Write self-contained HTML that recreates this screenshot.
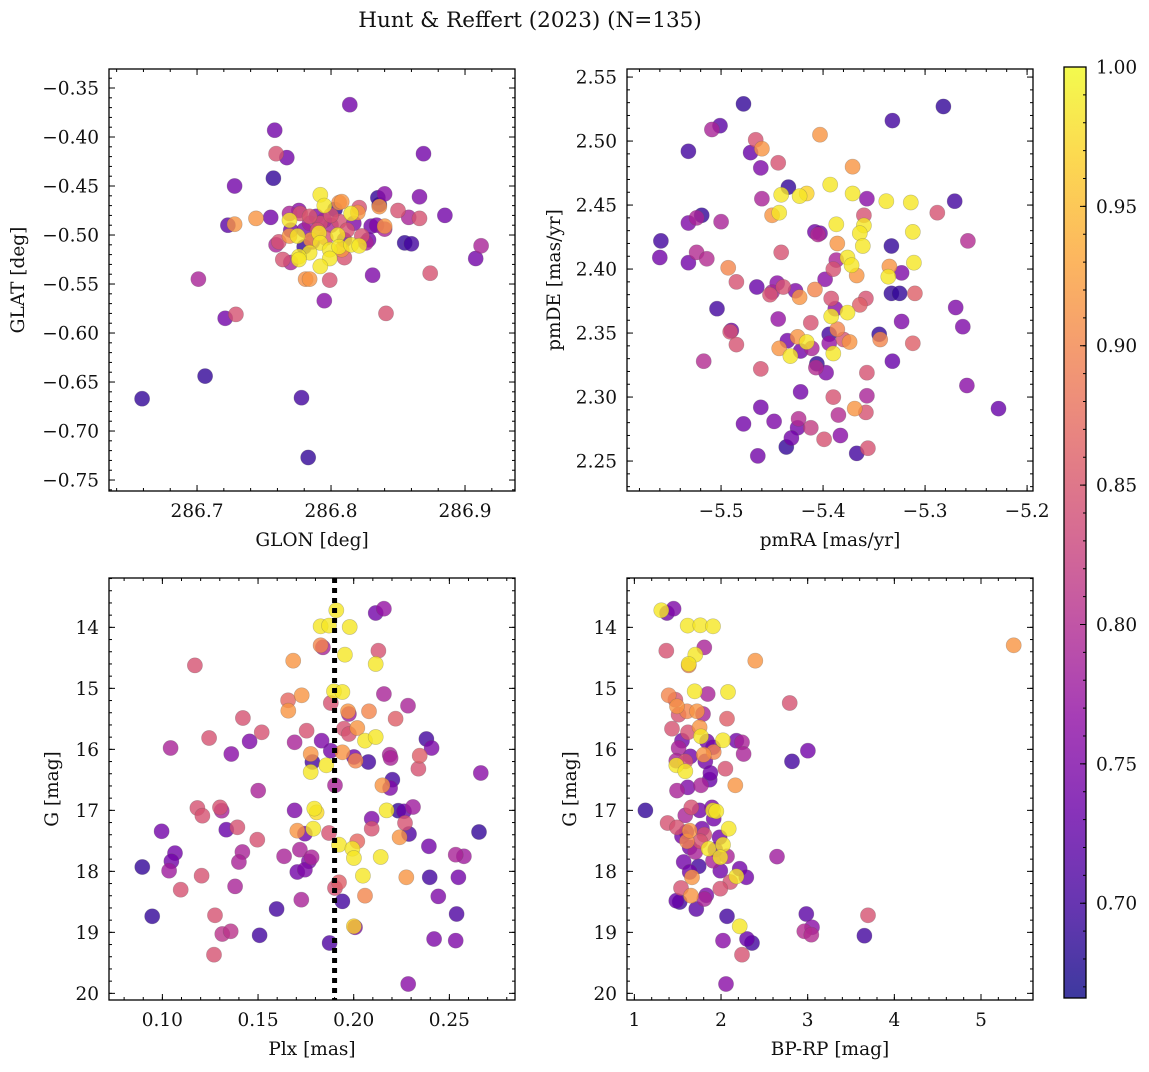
<!DOCTYPE html>
<html><head><meta charset="utf-8">
<style>
html,body{margin:0;padding:0;background:#fff;}
svg text{font-family:"DejaVu Serif","Liberation Serif",serif;fill:#111;}
</style></head>
<body>
<svg id="fig" width="1149" height="1067" viewBox="0 0 1149 1067" xmlns="http://www.w3.org/2000/svg">
<text x="530" y="27" font-size="21.5" text-anchor="middle">Hunt &amp; Reffert (2023) (N=135)</text>
</svg>
<script>
// ---- data: [x, y, membership probability] ----
const posData = [
[286.814,-0.367,0.74],[286.758,-0.393,0.74],[286.759,-0.417,0.845],[286.767,-0.421,0.74],[286.757,-0.442,0.69],
[286.728,-0.450,0.74],[286.869,-0.417,0.74],[286.835,-0.462,0.69],[286.840,-0.458,0.76],[286.866,-0.461,0.75],
[286.885,-0.480,0.74],[286.850,-0.475,0.845],[286.858,-0.482,0.79],[286.866,-0.483,0.845],[286.755,-0.482,0.74],
[286.744,-0.483,0.915],[286.723,-0.490,0.72],[286.728,-0.489,0.915],[286.912,-0.511,0.79],[286.908,-0.524,0.74],
[286.855,-0.508,0.69],[286.860,-0.509,0.70],[286.831,-0.541,0.75],[286.874,-0.539,0.845],[286.701,-0.545,0.79],
[286.784,-0.545,0.915],[286.781,-0.545,0.91],[286.799,-0.546,0.845],[286.795,-0.567,0.76],[286.721,-0.585,0.74],
[286.729,-0.581,0.845],[286.841,-0.580,0.845],[286.706,-0.644,0.69],[286.659,-0.667,0.69],[286.778,-0.666,0.70],
[286.783,-0.727,0.69],
[286.792,-0.459,0.985],[286.795,-0.470,0.985],[286.808,-0.466,0.915],[286.806,-0.467,0.91],[286.815,-0.478,0.985],
[286.820,-0.477,0.915],[286.821,-0.472,0.845],[286.836,-0.471,0.915],[286.836,-0.469,0.69],[286.769,-0.478,0.79],
[286.776,-0.475,0.76],[286.777,-0.478,0.845],[286.784,-0.481,0.85],[286.769,-0.485,0.985],[286.803,-0.474,0.69],
[286.806,-0.486,0.845],[286.792,-0.488,0.84],[286.784,-0.488,0.79],[286.789,-0.481,0.75],[286.830,-0.491,0.74],
[286.834,-0.490,0.75],[286.840,-0.491,0.915],[286.840,-0.494,0.79],[286.769,-0.501,0.915],[286.775,-0.501,0.985],
[286.761,-0.507,0.845],[286.759,-0.510,0.79],[286.791,-0.498,0.985],[286.805,-0.500,0.985],[286.823,-0.501,0.845],
[286.828,-0.505,0.74],[286.826,-0.508,0.79],[286.792,-0.508,0.985],[286.799,-0.515,0.985],[286.806,-0.512,0.985],
[286.815,-0.510,0.985],[286.821,-0.511,0.985],[286.784,-0.518,0.985],[286.776,-0.522,0.985],[286.776,-0.525,0.985],
[286.799,-0.524,0.985],[286.792,-0.532,0.985],[286.764,-0.525,0.845],[286.770,-0.528,0.79],[286.810,-0.523,0.845],
[286.786,-0.507,0.74],[286.796,-0.503,0.845],[286.780,-0.512,0.69],[286.810,-0.505,0.74],[286.790,-0.495,0.845],
[286.800,-0.490,0.79],[286.780,-0.495,0.75],[286.812,-0.495,0.845],[286.795,-0.485,0.79],[286.785,-0.505,0.915],
[286.808,-0.515,0.915],[286.770,-0.495,0.74],[286.800,-0.480,0.845],[286.817,-0.488,0.75]
];
const pmData = [
[-5.478,2.529,0.69],[-5.282,2.527,0.69],[-5.332,2.516,0.70],[-5.501,2.512,0.72],[-5.509,2.509,0.79],
[-5.403,2.505,0.915],[-5.466,2.501,0.845],[-5.460,2.494,0.915],[-5.532,2.492,0.70],[-5.471,2.491,0.73],
[-5.444,2.483,0.845],[-5.371,2.480,0.915],[-5.461,2.479,0.75],[-5.393,2.466,0.985],[-5.434,2.464,0.69],
[-5.441,2.458,0.985],[-5.423,2.457,0.985],[-5.416,2.459,0.97],[-5.371,2.459,0.985],[-5.357,2.455,0.76],
[-5.460,2.455,0.79],[-5.338,2.453,0.985],[-5.314,2.452,0.985],[-5.271,2.453,0.70],[-5.288,2.444,0.845],
[-5.443,2.444,0.985],[-5.450,2.442,0.915],[-5.519,2.442,0.69],[-5.524,2.440,0.79],[-5.532,2.436,0.75],
[-5.500,2.437,0.79],[-5.360,2.442,0.845],[-5.387,2.435,0.985],[-5.360,2.434,0.985],[-5.408,2.429,0.74],
[-5.403,2.428,0.74],[-5.405,2.427,0.80],[-5.364,2.428,0.985],[-5.312,2.429,0.985],[-5.559,2.422,0.70],
[-5.258,2.422,0.80],[-5.386,2.420,0.915],[-5.361,2.418,0.985],[-5.333,2.418,0.69],[-5.441,2.413,0.845],
[-5.524,2.413,0.80],[-5.514,2.408,0.80],[-5.560,2.409,0.74],[-5.532,2.405,0.74],[-5.376,2.409,0.985],
[-5.387,2.407,0.79],[-5.372,2.403,0.985],[-5.311,2.405,0.985],[-5.493,2.401,0.90],[-5.390,2.400,0.845],
[-5.335,2.402,0.915],[-5.323,2.397,0.75],[-5.367,2.395,0.915],[-5.336,2.394,0.985],[-5.485,2.390,0.845],
[-5.465,2.386,0.73],[-5.445,2.389,0.76],[-5.439,2.386,0.845],[-5.452,2.380,0.845],[-5.450,2.382,0.79],
[-5.427,2.383,0.75],[-5.423,2.378,0.915],[-5.408,2.384,0.90],[-5.398,2.392,0.76],[-5.333,2.381,0.69],
[-5.325,2.381,0.69],[-5.310,2.381,0.86],[-5.392,2.377,0.845],[-5.504,2.369,0.70],[-5.388,2.369,0.76],
[-5.358,2.377,0.845],[-5.364,2.372,0.86],[-5.376,2.366,0.985],[-5.392,2.363,0.985],[-5.270,2.370,0.75],
[-5.444,2.361,0.77],[-5.412,2.358,0.845],[-5.323,2.359,0.75],[-5.263,2.355,0.75],[-5.490,2.352,0.74],
[-5.491,2.351,0.845],[-5.386,2.353,0.90],[-5.394,2.349,0.70],[-5.345,2.349,0.69],[-5.344,2.345,0.90],
[-5.380,2.345,0.845],[-5.374,2.343,0.915],[-5.425,2.347,0.915],[-5.416,2.343,0.985],[-5.435,2.344,0.74],
[-5.443,2.338,0.915],[-5.394,2.342,0.77],[-5.312,2.342,0.86],[-5.485,2.341,0.845],[-5.422,2.336,0.74],
[-5.411,2.338,0.79],[-5.390,2.334,0.985],[-5.432,2.332,0.985],[-5.332,2.328,0.73],[-5.517,2.328,0.80],
[-5.406,2.326,0.69],[-5.407,2.323,0.80],[-5.397,2.319,0.75],[-5.461,2.322,0.845],[-5.357,2.319,0.845],
[-5.259,2.309,0.76],[-5.422,2.304,0.74],[-5.390,2.300,0.845],[-5.357,2.301,0.79],[-5.461,2.292,0.74],
[-5.369,2.291,0.915],[-5.358,2.288,0.845],[-5.385,2.286,0.80],[-5.228,2.291,0.73],[-5.478,2.279,0.74],
[-5.448,2.281,0.75],[-5.424,2.283,0.80],[-5.425,2.276,0.74],[-5.412,2.276,0.82],[-5.383,2.270,0.76],
[-5.399,2.267,0.845],[-5.431,2.268,0.74],[-5.436,2.261,0.69],[-5.367,2.256,0.70],[-5.356,2.260,0.845],
[-5.464,2.254,0.74]
];
const plxData = [
[0.1909,13.721,0.985],[0.2115,13.765,0.74],[0.2158,13.694,0.77],[0.1827,13.983,0.985],[0.1871,13.972,0.985],
[0.1979,13.994,0.985],[0.1827,14.295,0.90],[0.1839,14.328,0.79],[0.1954,14.448,0.985],[0.2129,14.382,0.845],
[0.2115,14.601,0.985],[0.1170,14.623,0.845],[0.1684,14.546,0.915],[0.1897,15.049,0.985],[0.1941,15.060,0.985],
[0.2158,15.093,0.79],[0.1728,15.114,0.915],[0.1657,15.196,0.87],[0.1880,15.240,0.845],[0.2284,15.284,0.79],
[0.1658,15.366,0.915],[0.1970,15.377,0.915],[0.1975,15.421,0.78],[0.2080,15.377,0.90],[0.1421,15.486,0.845],
[0.2219,15.497,0.86],[0.1949,15.661,0.845],[0.2019,15.650,0.915],[0.1975,15.748,0.845],[0.1754,15.694,0.845],
[0.1519,15.721,0.845],[0.1244,15.814,0.845],[0.1456,15.869,0.75],[0.1691,15.885,0.79],[0.1832,15.858,0.75],
[0.2059,15.858,0.985],[0.2115,15.798,0.985],[0.2380,15.830,0.70],[0.2407,15.978,0.75],[0.1043,15.978,0.79],
[0.1880,16.022,0.74],[0.1941,16.049,0.915],[0.1775,16.076,0.915],[0.2001,16.126,0.74],[0.1360,16.076,0.76],
[0.2010,16.186,0.90],[0.1784,16.207,0.70],[0.1857,16.262,0.985],[0.2076,16.207,0.70],[0.2188,16.087,0.79],
[0.2193,16.142,0.79],[0.2345,16.104,0.86],[0.2338,16.317,0.845],[0.1775,16.371,0.985],[0.2664,16.388,0.76],
[0.2202,16.497,0.70],[0.2150,16.590,0.915],[0.2190,16.634,0.75],[0.1902,16.590,0.79],[0.1501,16.677,0.79],
[0.1183,16.961,0.845],[0.1209,17.087,0.845],[0.1301,16.951,0.845],[0.1310,17.005,0.79],[0.1691,17.000,0.75],
[0.1794,16.972,0.985],[0.1806,17.033,0.975],[0.2172,17.000,0.985],[0.2233,17.005,0.69],[0.2263,17.016,0.73],
[0.2310,16.945,0.78],[0.2094,17.137,0.75],[0.2268,17.207,0.845],[0.0996,17.344,0.74],[0.1334,17.317,0.73],
[0.1392,17.278,0.845],[0.1705,17.333,0.915],[0.1745,17.382,0.74],[0.1789,17.300,0.985],[0.1871,17.371,0.845],
[0.2094,17.300,0.845],[0.2289,17.388,0.71],[0.2240,17.442,0.915],[0.2655,17.355,0.69],[0.1496,17.481,0.845],
[0.2019,17.508,0.87],[0.1923,17.563,0.985],[0.1993,17.628,0.985],[0.2393,17.590,0.74],[0.1066,17.700,0.74],
[0.1418,17.683,0.79],[0.1719,17.645,0.79],[0.1636,17.754,0.79],[0.1780,17.770,0.79],[0.2001,17.781,0.985],
[0.2141,17.765,0.985],[0.2533,17.727,0.79],[0.2576,17.754,0.78],[0.0895,17.929,0.69],[0.1047,17.836,0.74],
[0.1400,17.847,0.79],[0.1766,17.836,0.75],[0.1705,18.011,0.74],[0.1745,17.973,0.75],[0.1035,17.989,0.78],
[0.1205,18.071,0.845],[0.2048,18.071,0.985],[0.2275,18.098,0.915],[0.2397,18.098,0.70],[0.2547,18.098,0.74],
[0.1096,18.300,0.845],[0.1380,18.246,0.79],[0.1923,18.180,0.86],[0.1902,18.273,0.845],[0.2059,18.399,0.90],
[0.2442,18.410,0.75],[0.1726,18.464,0.79],[0.1941,18.492,0.70],[0.1597,18.617,0.70],[0.0947,18.737,0.69],
[0.1275,18.721,0.845],[0.2538,18.699,0.71],[0.1313,19.027,0.81],[0.1357,18.983,0.81],[0.1508,19.049,0.70],
[0.2001,18.901,0.97],[0.2007,18.918,0.75],[0.1874,19.175,0.71],[0.2420,19.109,0.75],[0.2533,19.136,0.75],
[0.1270,19.366,0.845],[0.2285,19.847,0.76]
];
const colData = [
[1.311,13.721,0.985],[1.377,13.765,0.74],[1.453,13.694,0.75],[1.615,13.972,0.985],[1.761,13.967,0.985],
[1.907,13.983,0.985],[1.369,14.382,0.845],[1.807,14.328,0.79],[1.703,14.448,0.985],[1.627,14.601,0.985],
[1.627,14.623,0.90],[2.396,14.546,0.915],[5.377,14.295,0.915],[1.696,15.049,0.985],[1.846,15.093,0.79],
[2.080,15.060,0.985],[1.396,15.114,0.90],[1.473,15.186,0.85],[2.792,15.240,0.845],[1.492,15.295,0.915],
[1.511,15.432,0.845],[1.607,15.377,0.90],[1.723,15.377,0.915],[1.792,15.421,0.79],[2.069,15.497,0.86],
[1.434,15.661,0.845],[1.619,15.721,0.845],[1.753,15.639,0.915],[1.769,15.787,0.985],[1.550,15.858,0.74],
[1.838,15.869,0.74],[2.023,15.852,0.985],[2.177,15.858,0.74],[2.242,15.885,0.79],[1.907,15.967,0.74],
[1.511,15.978,0.79],[2.261,16.076,0.79],[1.646,16.115,0.74],[1.800,16.087,0.915],[1.915,16.044,0.90],
[3.003,16.022,0.74],[1.484,16.186,0.79],[1.588,16.197,0.845],[1.819,16.197,0.74],[1.484,16.262,0.985],
[2.819,16.197,0.70],[1.588,16.360,0.985],[1.877,16.388,0.74],[1.869,16.497,0.73],[2.050,16.317,0.845],
[2.165,16.590,0.915],[1.492,16.677,0.79],[1.615,16.623,0.75],[1.769,16.590,0.79],[1.127,17.000,0.69],
[1.657,16.951,0.845],[1.753,17.000,0.74],[1.896,16.951,0.75],[1.907,17.000,0.985],[1.946,17.016,0.985],
[1.588,17.082,0.79],[1.915,17.137,0.74],[1.384,17.208,0.845],[1.492,17.279,0.845],[1.600,17.355,0.74],
[1.638,17.333,0.915],[1.780,17.300,0.74],[2.088,17.300,0.985],[1.807,17.399,0.845],[1.550,17.426,0.74],
[1.607,17.508,0.90],[1.761,17.508,0.845],[1.984,17.442,0.74],[1.857,17.628,0.985],[2.023,17.563,0.985],
[1.638,17.607,0.74],[1.703,17.683,0.79],[1.934,17.645,0.74],[2.069,17.754,0.79],[1.992,17.770,0.985],
[2.646,17.759,0.78],[1.907,17.825,0.79],[1.569,17.847,0.74],[1.742,17.918,0.70],[1.992,17.989,0.74],
[1.638,18.011,0.74],[2.215,17.956,0.74],[2.292,18.098,0.74],[1.665,18.098,0.915],[2.107,18.175,0.845],
[2.177,18.082,0.985],[1.538,18.273,0.845],[1.992,18.284,0.845],[1.653,18.399,0.915],[1.830,18.393,0.75],
[1.807,18.453,0.79],[1.484,18.481,0.73],[1.523,18.503,0.70],[1.715,18.617,0.72],[2.069,18.737,0.70],
[2.215,18.901,0.985],[2.984,18.699,0.72],[3.696,18.721,0.845],[2.023,19.136,0.76],[2.300,19.109,0.73],
[2.357,19.175,0.70],[2.242,19.366,0.845],[2.961,18.983,0.80],[3.050,18.918,0.76],[3.042,19.038,0.80],
[3.654,19.055,0.70],[2.057,19.847,0.76]
];
const cbTicks = [0.70,0.75,0.80,0.85,0.90,0.95,1.00];
const cbLabels = ["0.70","0.75","0.80","0.85","0.90","0.95","1.00"];
const vmin = 0.666, vmax = 1.0;

const plasma = ["#0d0887","#41049d","#6a00a8","#8f0da4","#b12a90","#cc4778","#e16462","#f2844b","#fca636","#fcce25","#f0f921"];
function hex(h){return [parseInt(h.substr(1,2),16),parseInt(h.substr(3,2),16),parseInt(h.substr(5,2),16)];}
function cmap(v){
  let t=(v-vmin)/(vmax-vmin); t=Math.max(0,Math.min(1,t));
  const s=t*10, i=Math.min(9,Math.floor(s)), f=s-i;
  const a=hex(plasma[i]), b=hex(plasma[i+1]);
  return "rgb("+a.map((c,k)=>Math.round(c+(b[k]-c)*f)).join(",")+")";
}
const NS="http://www.w3.org/2000/svg";
const svg=document.getElementById('fig');
function el(tag,attrs,parent){const e=document.createElementNS(NS,tag);for(const k in attrs)e.setAttribute(k,attrs[k]);(parent||svg).appendChild(e);return e;}
const TF=18.5, AF=18.5;

function panel(cfg){
  const g=el('g',{});
  
  
  const {x0,y0,w,h}=cfg;
  const sx=v=>x0+(v-cfg.xmin)/(cfg.xmax-cfg.xmin)*w;
  const sy=cfg.invert? (v=>y0+(v-cfg.ymin)/(cfg.ymax-cfg.ymin)*h) : (v=>y0+h-(v-cfg.ymin)/(cfg.ymax-cfg.ymin)*h);
  const pts=cfg.data.slice().sort((a,b)=>a[2]-b[2]);
  const pg=el('g',{},g);
  
  
  pts.forEach(p=>{
    const c=el('circle',{cx:sx(p[0]).toFixed(1),cy:sy(p[1]).toFixed(1),r:7.6,fill:cmap(p[2]),'fill-opacity':0.8,stroke:'rgba(90,90,90,0.35)','stroke-width':0.6},pg);
    
    
  });
  if(cfg.vline!==undefined){
    const l=el('line',{x1:sx(cfg.vline),x2:sx(cfg.vline),y1:y0,y2:y0+h,stroke:'#000','stroke-width':5,'stroke-dasharray':'5,5'},g);
    
    
  }
  const fr=el('rect',{x:x0,y:y0,width:w,height:h,fill:'none',stroke:'#000','stroke-width':1.3},g);
  
  
  const tg=el('g',{stroke:'#000','stroke-width':1},g);
  function range(a,b,step){const r=[];const n0=Math.ceil(a/step-1e-6),n1=Math.floor(b/step+1e-6);for(let n=n0;n<=n1;n++)r.push(+(n*step).toFixed(6));return r;}
  range(cfg.xmin,cfg.xmax,cfg.xminor).forEach(v=>{const x=sx(v);el('line',{x1:x,x2:x,y1:y0+h,y2:y0+h-3},tg);el('line',{x1:x,x2:x,y1:y0,y2:y0+3},tg);});
  range(cfg.ymin,cfg.ymax,cfg.yminor).forEach(v=>{const y=sy(v);el('line',{x1:x0,x2:x0+3,y1:y,y2:y},tg);el('line',{x1:x0+w,x2:x0+w-3,y1:y,y2:y},tg);});
  cfg.xticks.forEach((v,i)=>{const x=sx(v);el('line',{x1:x,x2:x,y1:y0+h,y2:y0+h-6},tg);el('line',{x1:x,x2:x,y1:y0,y2:y0+6},tg);
    const t=el('text',{x:x,y:y0+h+26,'font-size':TF,'text-anchor':'middle'},g);t.textContent=cfg.xlabels[i];
    
    });
  cfg.yticks.forEach((v,i)=>{const y=sy(v);el('line',{x1:x0,x2:x0+6,y1:y,y2:y},tg);el('line',{x1:x0+w,x2:x0+w-6,y1:y,y2:y},tg);
    const t=el('text',{x:x0-10,y:y+6.5,'font-size':TF,'text-anchor':'end'},g);t.textContent=cfg.ylabels[i];
    
    });
  const xt=el('text',{x:x0+w/2,y:y0+h+55,'font-size':AF,'text-anchor':'middle'},g);xt.textContent=cfg.xtitle;
  
  
  const yt=el('text',{x:0,y:0,'font-size':AF,'text-anchor':'middle',transform:`translate(${cfg.ytx},${y0+h/2}) rotate(-90)`},g);yt.textContent=cfg.ytitle;
  
  
}

panel({name:'position-panel',data:posData,x0:109,y0:69,w:406,h:422,xmin:286.6343,xmax:286.9373,ymin:-0.7612,ymax:-0.3306,
  xticks:[286.7,286.8,286.9],xlabels:["286.7","286.8","286.9"],xminor:0.02,
  yticks:[-0.75,-0.70,-0.65,-0.60,-0.55,-0.50,-0.45,-0.40,-0.35],ylabels:["\u22120.75","\u22120.70","\u22120.65","\u22120.60","\u22120.55","\u22120.50","\u22120.45","\u22120.40","\u22120.35"],yminor:0.01,
  xtitle:"GLON [deg]",ytitle:"GLAT [deg]",ytx:24});
panel({name:'proper-motion-panel',data:pmData,x0:627,y0:69,w:406,h:422,xmin:-5.5922,xmax:-5.1942,ymin:2.2266,ymax:2.5563,
  xticks:[-5.5,-5.4,-5.3,-5.2],xlabels:["\u22125.5","\u22125.4","\u22125.3","\u22125.2"],xminor:0.02,
  yticks:[2.25,2.30,2.35,2.40,2.45,2.50,2.55],ylabels:["2.25","2.30","2.35","2.40","2.45","2.50","2.55"],yminor:0.01,
  xtitle:"pmRA [mas/yr]",ytitle:"pmDE [mas/yr]",ytx:560});
panel({name:'parallax-cmd-panel',data:plxData,x0:109,y0:578,w:406,h:422,xmin:0.0721,xmax:0.2843,ymin:13.191,ymax:20.109,invert:true,
  xticks:[0.10,0.15,0.20,0.25],xlabels:["0.10","0.15","0.20","0.25"],xminor:0.01,
  yticks:[14,15,16,17,18,19,20],ylabels:["14","15","16","17","18","19","20"],yminor:0.2,vline:0.19,
  xtitle:"Plx [mas]",ytitle:"G [mag]",ytx:58});
panel({name:'color-magnitude-panel',data:colData,x0:627,y0:578,w:406,h:422,xmin:0.915,xmax:5.6,ymin:13.191,ymax:20.109,invert:true,
  xticks:[1,2,3,4,5],xlabels:["1","2","3","4","5"],xminor:0.2,
  yticks:[14,15,16,17,18,19,20],ylabels:["14","15","16","17","18","19","20"],yminor:0.2,
  xtitle:"BP-RP [mag]",ytitle:"G [mag]",ytx:576});

(function(){
  const x0=1064,y0=67,w=22,h=931;
  const g=el('g',{});
  
  
  const defs=el('defs',{},g);
  const lg=el('linearGradient',{id:'cbg',x1:0,y1:1,x2:0,y2:0},defs);
  for(let i=0;i<=20;i++){const v=vmin+(vmax-vmin)*i/20;el('stop',{offset:(i/20).toFixed(3),'stop-color':cmap(v),'stop-opacity':0.8},lg);}
  el('rect',{x:x0,y:y0,width:w,height:h,fill:'url(#cbg)'},g);
  el('rect',{x:x0,y:y0,width:w,height:h,fill:'none',stroke:'#000','stroke-width':1.3},g);
  const sy=v=>y0+h-(v-vmin)/(vmax-vmin)*h;
  for(let n=67;n<=100;n++){const v=n/100;const y=sy(v);el('line',{x1:x0+w,x2:x0+w-3,y1:y,y2:y,stroke:'#000'},g);}
  cbTicks.forEach((v,i)=>{const y=sy(v);el('line',{x1:x0+w,x2:x0+w-6,y1:y,y2:y,stroke:'#000'},g);
    const t=el('text',{x:x0+w+10,y:y+6.5,'font-size':TF},g);t.textContent=cbLabels[i];
    
    });
})();
</script>
</body></html>
